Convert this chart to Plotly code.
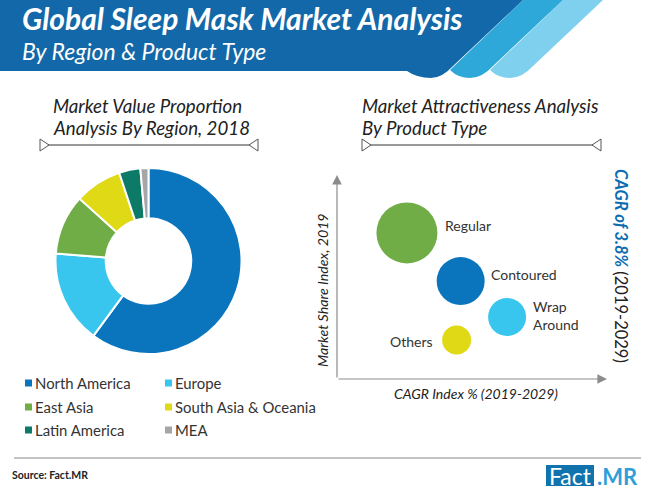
import plotly.graph_objs as go

W = 650
H = 494
FONT = "Lato"

regions = ["North America", "Europe", "East Asia", "South Asia & Oceania", "Latin America", "MEA"]
region_share = [60.1, 16.2, 10.4, 8.2, 3.7, 1.4]
region_colors = ["#0a75bd", "#38c6ef", "#70ad47", "#e0d916", "#0d7a67", "#a6a6a6"]

products = ["Regular", "Contoured", "Wrap<br>Around", "Others"]
cagr_index = [25.9, 45.8, 63.0, 44.3]
share_index = [71.6, 48.0, 30.4, 19.1]
bubble_size = [61, 48, 38, 29]
product_colors = ["#70ad47", "#0a75bd", "#38c6ef", "#e0d916"]

# label offsets from the bubble centre, pixels
label_dx = [36, 28, 24, -22]
label_dy = [7, 7, 1, -1]
label_anchor = ["left", "left", "left", "right"]


def px(x):
    return x / W


def py(y):
    return 1 - y / H


def path(points):
    # M/L/Q path from pixel coords, y measured from the top
    out = []
    for cmd, *xy in points:
        coords = [f"{px(xy[i])},{py(xy[i + 1])}" for i in range(0, len(xy), 2)]
        out.append(cmd + " " + " ".join(coords))
    return " ".join(out) + " Z"


def text(fig, x, y, s, size=14, color="#222222", xanchor="left", angle=0, style="normal", weight=400):
    fig.add_annotation(
        xref="paper", yref="paper", x=px(x), y=py(y), text=s, showarrow=False,
        xanchor=xanchor, yanchor="middle", textangle=angle,
        font=dict(family=FONT, size=size, color=color, style=style, weight=weight),
    )


def add_bracket(fig, x0, x1, y):
    fig.add_shape(type="line", xref="paper", yref="paper", x0=px(x0), x1=px(x1), y0=py(y), y1=py(y),
                  line=dict(color="#777777", width=1.5))
    for a, b in [(x0, x0 + 9), (x1, x1 - 9)]:
        fig.add_shape(type="path", xref="paper", yref="paper",
                      path=path([("M", a, y - 6), ("L", b, y), ("L", a, y + 6)]),
                      fillcolor="white", line=dict(color="#555555", width=1))


fig = go.Figure()

# donut
fig.add_trace(go.Pie(
    labels=regions, values=region_share, sort=False, direction="clockwise", rotation=0,
    hole=0.46, textinfo="none", showlegend=False,
    marker=dict(colors=region_colors, line=dict(color="white", width=2)),
    domain=dict(x=[px(55.5), px(241.5)], y=[py(354), py(168)]),
))

# bubbles
fig.add_trace(go.Scatter(
    x=cagr_index, y=share_index, mode="markers", showlegend=False,
    marker=dict(size=bubble_size, sizemode="diameter", color=product_colors, opacity=1, line=dict(width=0)),
))
fig.update_xaxes(domain=[px(337), px(607)], range=[0, 100], visible=False, fixedrange=True)
fig.update_yaxes(domain=[py(379), py(175)], range=[0, 100], visible=False, fixedrange=True)

for i, name in enumerate(products):
    fig.add_annotation(
        x=cagr_index[i], y=share_index[i], text=name, showarrow=False, align="left",
        xanchor=label_anchor[i], yanchor="middle", xshift=label_dx[i], yshift=label_dy[i],
        font=dict(family=FONT, size=14, color="#333333"),
    )

# axis arrows
for x_end, y_end in [(100, 0), (0, 100)]:
    fig.add_annotation(x=x_end, y=y_end, ax=0, ay=0, xref="x", yref="y", axref="x", ayref="y", text="",
                       showarrow=True, arrowhead=2, arrowsize=1.6, arrowwidth=1.2, arrowcolor="#8c8c8c")

# header bands
band_light = [("M", 563, 0), ("L", 603, 0), ("L", 533, 66), ("Q", 522, 78, 510, 78), ("Q", 498, 78, 490, 70)]
band_mid = [("M", 523, 0), ("L", 563, 0), ("L", 493, 66), ("Q", 482, 78, 470, 78), ("Q", 458, 78, 450, 70)]
band_dark = [("M", 0, 0), ("L", 523, 0), ("L", 453, 66), ("Q", 442, 78, 431, 78), ("Q", 417, 78, 407, 71), ("L", 0, 71)]
for band, color in [(band_light, "#7fd0ee"), (band_mid, "#2ea8d8"), (band_dark, "#1268a8")]:
    fig.add_shape(type="path", xref="paper", yref="paper", path=path(band), fillcolor=color, line=dict(width=0))

text(fig, 20, 18, "Global Sleep Mask Market Analysis", size=30, color="white", style="italic", weight=700)
text(fig, 20, 51, "By Region &amp; Product Type", size=23, color="white", style="italic")

# section headings
text(fig, 51, 106, "Market Value Proportion", size=18.7, style="italic")
text(fig, 51, 128, "Analysis By Region, 2018", size=18.7, style="italic")
text(fig, 360, 106, "Market Attractiveness Analysis", size=18.7, style="italic")
text(fig, 360, 128, "By Product Type", size=18.7, style="italic")
add_bracket(fig, 40, 258, 145)
add_bracket(fig, 362, 601, 145)

# axis labels
text(fig, 322, 290, "Market Share Index, 2019", size=14.2, xanchor="center", angle=-90, style="italic")
text(fig, 476, 393, "CAGR Index % (2019-2029)", size=14, xanchor="center", style="italic")
text(fig, 621, 266, "<b><i><span style='color:#0a6db3'>CAGR of 3.8%</span></i></b> (2019-2029)",
     size=16.5, xanchor="center", angle=90)

# legend, two columns
legend_x = [25, 165]
legend_y = [383, 407, 430]
for i, (name, color) in enumerate(zip(regions, region_colors)):
    lx = legend_x[i % 2]
    ly = legend_y[i // 2]
    fig.add_shape(type="rect", xref="paper", yref="paper", x0=px(lx), x1=px(lx + 7), y0=py(ly + 3.5), y1=py(ly - 3.5),
                  fillcolor=color, line=dict(width=0))
    text(fig, lx + 8, ly, name, size=14.9, color="#333333")

# footer
fig.add_shape(type="line", xref="paper", yref="paper", x0=px(14), x1=px(641), y0=py(458), y1=py(458),
              line=dict(color="#888888", width=1))
text(fig, 10, 475, "Source: Fact.MR", size=10.5, weight=700)
fig.add_shape(type="rect", xref="paper", yref="paper", x0=px(546), x1=px(594), y0=py(486), y1=py(465),
              fillcolor="#1173ad", line=dict(width=0))
text(fig, 570, 476, "Fact", size=23, color="white", xanchor="center")
text(fig, 595, 476, ".MR", size=22, color="#2f9fd8", weight=700)

fig.update_layout(
    width=W, height=H, margin=dict(l=0, r=0, t=0, b=0), autosize=False,
    paper_bgcolor="white", plot_bgcolor="white",
)
fig.write_html("out.html", config=dict(displayModeBar=False), post_script="document.body.style.margin='0';")
